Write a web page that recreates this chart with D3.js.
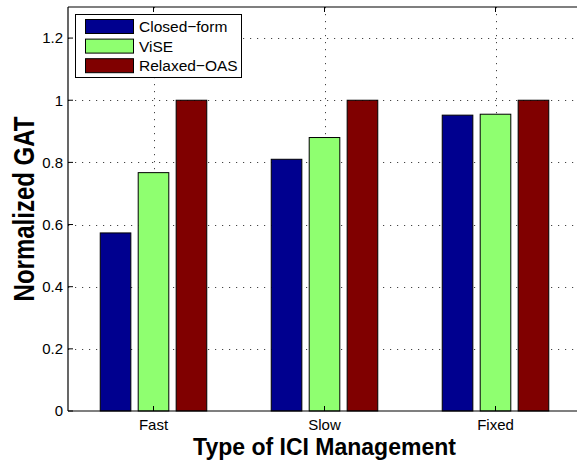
<!DOCTYPE html>
<html>
<head>
<meta charset="utf-8">
<script src="https://cdn.jsdelivr.net/npm/d3@7"></script>
<style>
  html, body { margin: 0; padding: 0; background: #fff; }
  svg { display: block; font-family: "Liberation Sans", Arial, Helvetica, sans-serif; }
</style>
</head>
<body>
<svg id="chart" width="577" height="462"></svg>
<script>
// Grouped bars: normalized GAT per ICI management type
const categories = ["Fast", "Slow", "Fixed"];
const seriesNames = ["Closed\u2212form", "ViSE", "Relaxed\u2212OAS"];
const closedForm = [0.573, 0.810, 0.952];
const vise = [0.767, 0.880, 0.955];
const relaxedOas = [1.0, 1.0, 1.0];
const yTicks = [0, 0.2, 0.4, 0.6, 0.8, 1, 1.2];
const colors = ["#00008F", "#8FFF70", "#800000"];

const series = [closedForm, vise, relaxedOas];

const svg = d3.select("#chart");
// the axes box runs slightly past the right edge of the figure
const plotLeft = 68, plotTop = 7, plotBottom = 411, plotRight = 581;

const x = d3.scaleLinear().domain([0.5, 3.5]).range([plotLeft, plotRight]);
const y = d3.scaleLinear().domain([0, 1.3]).range([plotBottom, plotTop]);

const barW = 0.179;      // bar width in category units
const barStep = 0.222;   // spacing between bars within a group

// dotted grid
const grid = svg.append("g");
yTicks.filter(t => t > 0).forEach(t => {
  grid.append("line")
    .attr("x1", plotLeft).attr("x2", plotRight)
    .attr("y1", Math.round(y(t)) + 0.5).attr("y2", Math.round(y(t)) + 0.5)
    .attr("stroke", "#444").attr("stroke-width", 1)
    .attr("stroke-dasharray", "1.2,5.8");
});
categories.forEach((c, i) => {
  grid.append("line")
    .attr("x1", Math.round(x(i + 1)) + 0.5).attr("x2", Math.round(x(i + 1)) + 0.5)
    .attr("y1", plotTop).attr("y2", plotBottom)
    .attr("stroke", "#444").attr("stroke-width", 1)
    .attr("stroke-dasharray", "1.2,5.8");
});

// bars
series.forEach((vals, s) => {
  svg.append("g").selectAll("rect")
    .data(vals)
    .join("rect")
    .attr("x", (d, i) => x(i + 1 + (s - 1) * barStep - barW / 2))
    .attr("width", x(barW) - x(0))
    .attr("y", d => y(d))
    .attr("height", d => y(0) - y(d))
    .attr("fill", colors[s])
    .attr("stroke", "#000")
    .attr("stroke-width", 1);
});

// axes frame
const frame = svg.append("g").attr("stroke", "#000").attr("stroke-width", 1.2);
frame.append("line").attr("x1", plotLeft).attr("x2", plotRight).attr("y1", plotBottom).attr("y2", plotBottom);
frame.append("line").attr("x1", plotLeft).attr("x2", plotRight).attr("y1", plotTop).attr("y2", plotTop);
frame.append("line").attr("x1", plotLeft).attr("x2", plotLeft).attr("y1", plotTop).attr("y2", plotBottom);

// inward ticks
yTicks.forEach(t => {
  svg.append("line").attr("x1", plotLeft).attr("x2", plotLeft + 5)
    .attr("y1", y(t)).attr("y2", y(t)).attr("stroke", "#000");
});
categories.forEach((c, i) => {
  svg.append("line").attr("x1", x(i + 1)).attr("x2", x(i + 1))
    .attr("y1", plotBottom).attr("y2", plotBottom - 5).attr("stroke", "#000");
  svg.append("line").attr("x1", x(i + 1)).attr("x2", x(i + 1))
    .attr("y1", plotTop).attr("y2", plotTop + 5).attr("stroke", "#000");
});

// tick labels
svg.append("g").selectAll("text")
  .data(yTicks)
  .join("text")
  .attr("x", plotLeft - 5)
  .attr("y", d => y(d))
  .attr("dy", "0.36em")
  .attr("text-anchor", "end")
  .attr("font-size", 15)
  .text(d => d3.format("~g")(d));

svg.append("g").selectAll("text")
  .data(categories)
  .join("text")
  .attr("x", (d, i) => x(i + 1))
  .attr("y", 430)
  .attr("text-anchor", "middle")
  .attr("font-size", 15)
  .text(d => d);

// axis titles, centred on the axes box
svg.append("text")
  .attr("x", (plotLeft + plotRight) / 2).attr("y", 455)
  .attr("text-anchor", "middle")
  .attr("font-size", 23).attr("font-weight", "bold")
  .text("Type of ICI Management");

svg.append("text")
  .attr("transform", `translate(34,${(plotTop + plotBottom) / 2}) rotate(-90) scale(1,1.2)`)
  .attr("text-anchor", "middle")
  .attr("font-size", 24).attr("font-weight", "bold")
  .text("Normalized GAT");

// legend
const lg = svg.append("g");
lg.append("rect")
  .attr("x", 75.5).attr("y", 14.5).attr("width", 166).attr("height", 63)
  .attr("fill", "#fff").attr("stroke", "#000").attr("stroke-width", 1);
seriesNames.forEach((name, s) => {
  const cy = 26.5 + s * 19.6;
  lg.append("rect")
    .attr("x", 85.5).attr("y", cy - 7).attr("width", 48).attr("height", 14)
    .attr("fill", colors[s]).attr("stroke", "#000").attr("stroke-width", 1);
  lg.append("text")
    .attr("x", 139).attr("y", cy).attr("dy", "0.36em")
    .attr("font-size", 15.5)
    .text(name);
});
</script>
</body>
</html>
